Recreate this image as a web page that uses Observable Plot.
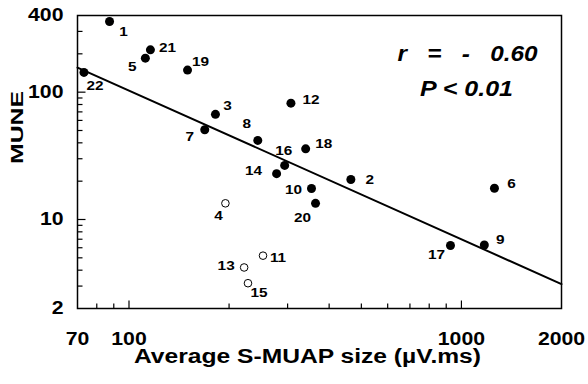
<!DOCTYPE html>
<html>
<head>
<meta charset="utf-8">
<script src="https://cdn.jsdelivr.net/npm/d3@7"></script>
<script src="https://cdn.jsdelivr.net/npm/@observablehq/plot@0.6"></script>
<style>
  html, body { margin: 0; padding: 0; background: #fff; }
  svg { font-family: "Liberation Sans", Arial, sans-serif; }
</style>
</head>
<body>
<script>
// ---- data ----
const subjectIds = [1, 2, 3, 4, 5, 6, 7, 8, 9, 10, 11, 12, 13, 14, 15, 16, 17, 18, 19, 20, 21, 22];
const muapSize  = [87.4, 465, 182, 195, 112, 1257, 169, 244, 1172, 354, 253, 307, 222, 278, 228, 294, 927, 340, 150, 364, 116, 73.2];
const muneValues = [359, 20.6, 67, 13.4, 185, 17.6, 50.7, 41.8, 6.3, 17.5, 5.2, 82, 4.2, 22.9, 3.16, 26.6, 6.25, 35.9, 149, 13.4, 215, 143];
const openSubjects = [4, 11, 13, 15];
const fitX = [70, 2000];
const fitY = [156, 3.11];
const xTickLabels = [70, 100, 1000, 2000];
const yTickLabels = [2, 10, 100, 400];
const xMinorTicks = [80, 90, 200, 300, 400, 500, 600, 700, 800, 900];
const xMajorTicks = [100, 1000];
const yMinorTicks = [3, 4, 5, 6, 7, 8, 9, 20, 30, 40, 50, 60, 70, 80, 90, 200, 300];
const yMajorTicks = [10, 100];
const statLines = ["r\u00a0\u00a0\u00a0=\u00a0\u00a0\u00a0-\u00a0\u00a0\u00a00.60", "P < 0.01"];
const xTitle = "Average S-MUAP size (\u00b5V.ms)";
const yTitle = "MUNE";

// label placement (pixel offsets from each point), by subject id
const labelOffset = {
  1: [14, 10], 2: [19, 0], 3: [12, -8], 4: [-7, 13], 5: [-13, 9], 6: [17, -4],
  7: [-15, 7], 8: [-11, -17], 9: [16, -5], 10: [-18, 1], 11: [15, 2], 12: [20, -3],
  13: [-18, -2], 14: [-23, -3], 15: [11, 10], 16: [-1, -15], 17: [-14, 9], 18: [18, -5],
  19: [13, -8], 20: [-13, 15], 21: [17, -2], 22: [11, 13]
};

const xDomain = [70, 2000];
const yDomain = [2, 400];

const points = subjectIds.map((id, i) => ({id, x: muapSize[i], y: muneValues[i], open: openSubjects.includes(id)}));
const fit = fitX.map((x, i) => ({x, y: fitY[i]}));

const labelMarks = points.map(p => Plot.text([p], {
  x: "x", y: "y", text: d => String(d.id),
  dx: labelOffset[p.id][0], dy: labelOffset[p.id][1],
  fontSize: 13, fontWeight: "bold", fill: "black", textAnchor: "middle"
}));

const W = 588, H = 384, ML = 77, MR = 27, MT = 15, MB = 76;
const innerW = W - ML - MR, innerH = H - MT - MB;

// where a tick stub of a given pixel length ends, along each log axis
const yStubEnd = px => yDomain[0] * Math.pow(yDomain[1] / yDomain[0], px / innerH);
const xStubEnd = px => xDomain[0] * Math.pow(xDomain[1] / xDomain[0], px / innerW);

const chart = Plot.plot({
  width: W,
  height: H,
  marginLeft: ML,
  marginRight: MR,
  marginTop: MT,
  marginBottom: MB,
  style: {fontFamily: "'Liberation Sans', Arial, sans-serif", color: "black", background: "white"},
  x: {type: "log", domain: xDomain, axis: null},
  y: {type: "log", domain: yDomain, axis: null},
  marks: [
    Plot.frame({stroke: "black", fill: "none", strokeWidth: 1.5}),
    // inward tick stubs
    Plot.link(xMinorTicks, {x1: d => d, x2: d => d, y1: yDomain[0], y2: yStubEnd(5), stroke: "black", strokeWidth: 1.2}),
    Plot.link(xMajorTicks, {x1: d => d, x2: d => d, y1: yDomain[0], y2: yStubEnd(8), stroke: "black", strokeWidth: 1.2}),
    Plot.link(yMinorTicks, {y1: d => d, y2: d => d, x1: xDomain[0], x2: xStubEnd(5), stroke: "black", strokeWidth: 1.2}),
    Plot.link(yMajorTicks, {y1: d => d, y2: d => d, x1: xDomain[0], x2: xStubEnd(8), stroke: "black", strokeWidth: 1.2}),
    Plot.text(xTickLabels, {x: d => d, frameAnchor: "bottom", dy: 31, lineAnchor: "middle", text: d => String(d), fontSize: 18, fontWeight: "bold"}),
    Plot.text(yTickLabels, {y: d => d, frameAnchor: "left", dx: -14, textAnchor: "end", lineAnchor: "middle", text: d => String(d), fontSize: 18, fontWeight: "bold"}),
    Plot.line(fit, {x: "x", y: "y", stroke: "black", strokeWidth: 2}),
    Plot.dot(points.filter(d => !d.open), {x: "x", y: "y", r: 4.5, fill: "black", stroke: "none"}),
    Plot.dot(points.filter(d => d.open), {x: "x", y: "y", r: 3.8, fill: "white", stroke: "black", strokeWidth: 1}),
    ...labelMarks,
    Plot.text([statLines[0]], {frameAnchor: "top-right", dx: -94, dy: 30, text: d => d, fontSize: 22, fontWeight: "bold", fontStyle: "italic", textAnchor: "middle"}),
    Plot.text([statLines[1]], {frameAnchor: "top-right", dx: -95, dy: 65, text: d => d, fontSize: 22, fontWeight: "bold", fontStyle: "italic", textAnchor: "middle"}),
    Plot.text([xTitle], {frameAnchor: "bottom", dx: -12, dy: 48, text: d => d, fontSize: 20, fontWeight: "bold", lineAnchor: "middle"}),
    Plot.text([yTitle], {frameAnchor: "left", dx: -60, dy: 2, rotate: -90, text: d => d, fontSize: 17, fontWeight: "bold", lineAnchor: "middle"})
  ]
});
document.body.appendChild(chart);

// widen glyphs to match the reference's wide bold face
const targets = {};
targets[statLines[0]] = 140;
targets[statLines[1]] = 93;
targets[xTitle] = 347;
targets[yTitle] = 73;
chart.querySelectorAll("text").forEach(t => {
  const s = t.textContent;
  if (!s) return;
  const len = t.getComputedTextLength();
  const target = targets[s] !== undefined ? targets[s] : len * 1.18;
  t.setAttribute("textLength", target);
  t.setAttribute("lengthAdjust", "spacingAndGlyphs");
});
</script>
</body>
</html>
